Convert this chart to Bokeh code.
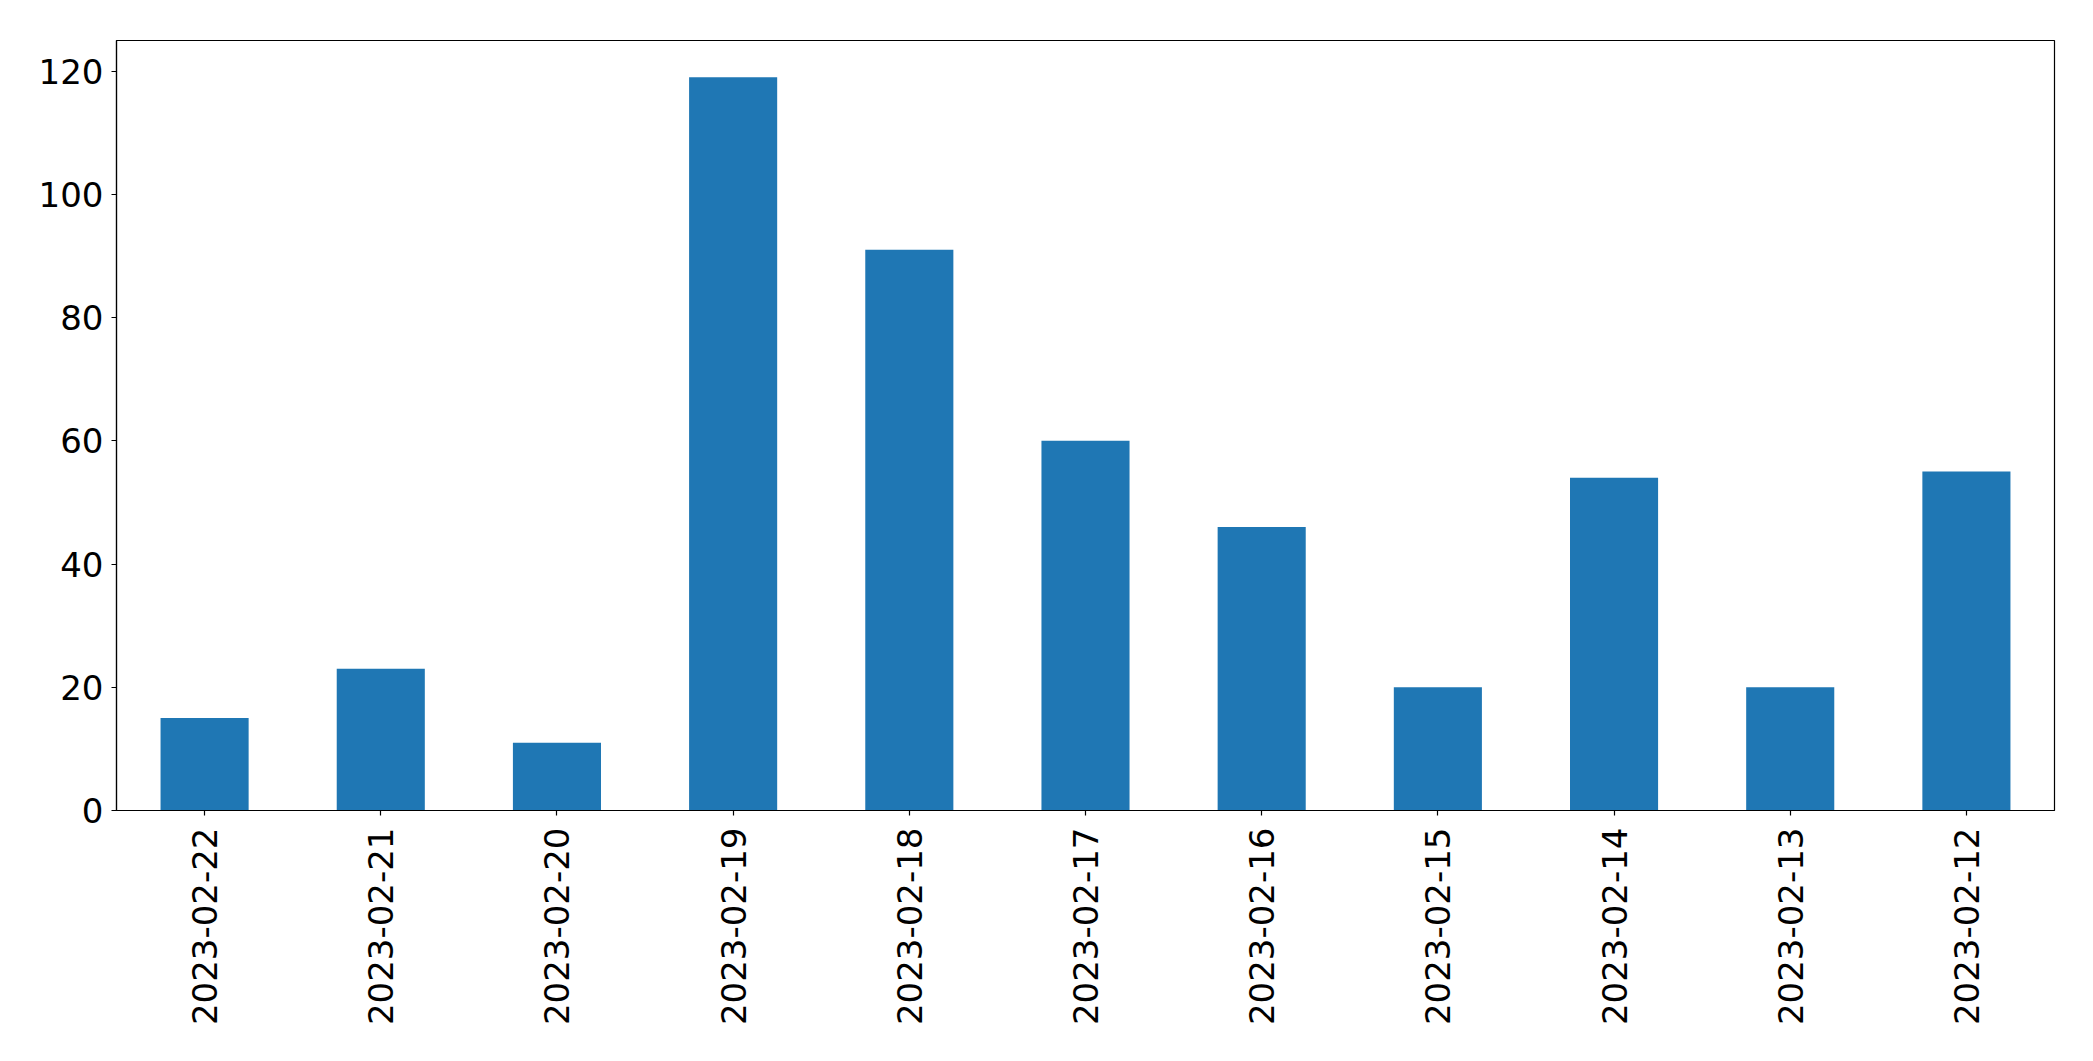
import math
from bokeh.plotting import figure
from bokeh.models import ColumnDataSource, Range1d, FactorRange, FixedTicker
from bokeh.embed import file_html
from bokeh.resources import INLINE

dates = ["2023-02-22", "2023-02-21", "2023-02-20", "2023-02-19", "2023-02-18",
         "2023-02-17", "2023-02-16", "2023-02-15", "2023-02-14", "2023-02-13",
         "2023-02-12"]
counts = [15, 23, 11, 119, 91, 60, 46, 20, 54, 20, 55]
y_ticks = [0, 20, 40, 60, 80, 100, 120]

source = ColumnDataSource(data=dict(date=dates, count=counts))

p = figure(
    x_range=FactorRange(*dates, range_padding=0),
    y_range=Range1d(0, max(counts) * 1.05),
    frame_width=1938, frame_height=770,
    min_border_left=116, min_border_right=31,
    min_border_top=40, min_border_bottom=236,
    output_backend="svg", toolbar_location=None,
)

p.vbar(x="date", top="count", width=0.5, source=source,
       fill_color="#1f77b4", line_color=None)

p.xgrid.visible = False
p.ygrid.visible = False
p.outline_line_color = "black"
p.outline_line_width = 1.2
p.outline_line_alpha = 1

for ax in (p.xaxis[0], p.yaxis[0]):
    ax.axis_line_color = "black"
    ax.axis_line_width = 1.2
    ax.major_tick_line_color = "black"
    ax.major_tick_line_width = 1.2
    ax.major_tick_out = 5
    ax.major_tick_in = 0
    ax.minor_tick_line_color = None
    ax.major_label_text_font = "DejaVu Sans"
    ax.major_label_text_font_size = "34px"
    ax.major_label_text_color = "black"

p.yaxis[0].ticker = FixedTicker(ticks=y_ticks)
p.yaxis[0].major_label_standoff = 8
p.xaxis[0].major_label_orientation = math.pi / 2
p.xaxis[0].major_label_standoff = 12

open("out.html", "w").write(file_html(p, INLINE))
